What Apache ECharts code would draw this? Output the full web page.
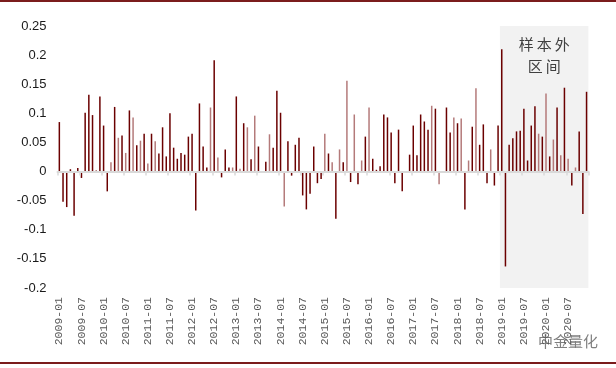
<!DOCTYPE html>
<html><head><meta charset="utf-8">
<script src="https://cdn.jsdelivr.net/npm/echarts@6/dist/echarts.min.js"></script>
<style>html,body{margin:0;padding:0;background:#fff}#c{width:616px;height:368px}</style>
</head><body><div id="c"></div>
<script>
// ---- data ----
const startYear = 2009, endYear = 2020;
const categories = [];
for (let y = startYear; y <= endYear; y++) for (let m = 1; m <= 12; m++) categories.push(y + '-' + String(m).padStart(2, '0'));

const values = [
  0.085, -0.052, -0.061, 0.004, -0.076, 0.006, -0.011, 0.101, 0.132, 0.097, 0.002, 0.129, // 2009
  0.079, -0.034, 0.016, 0.111, 0.058, 0.062, 0.032, 0.105, 0.093, 0.045, 0.053, 0.065,   // 2010
  0.014, 0.065, 0.052, 0.031, 0.076, 0.026, 0.100, 0.041, 0.022, 0.032, 0.029, 0.060,    // 2011
  0.065, -0.067, 0.117, 0.043, 0.007, 0.110, 0.191, 0.024, -0.010, 0.038, 0.007, 0.007,  // 2012
  0.129, 0.005, 0.083, 0.076, 0.021, 0.096, 0.043, 0, 0.017, 0.064, 0.041, 0.139,        // 2013
  0.101, -0.060, 0.052, -0.007, 0.046, 0.058, -0.041, -0.065, -0.038, 0.043, -0.020, -0.013, // 2014
  0.065, 0.031, 0.016, -0.081, 0.038, 0.016, 0.156, -0.018, 0.098, -0.022, 0.019, 0.060, // 2015
  0.110, 0.022, 0.003, 0.009, 0.098, 0.093, 0.067, -0.020, 0.072, -0.034, 0, 0.029,      // 2016
  0.079, 0.028, 0.098, 0.086, 0.072, 0.113, 0.108, -0.022, 0, 0.110, 0.067, 0.093,       // 2017
  0.083, 0.091, -0.065, 0.019, 0.077, 0.143, 0.046, 0.081, -0.020, 0.038, -0.024, 0.079, // 2018
  0.210, -0.163, 0.046, 0.057, 0.069, 0.070, 0.108, 0.019, 0.079, 0.112, 0.065, 0.060,   // 2019
  0.134, 0.026, 0.055, 0.110, 0.028, 0.144, 0.022, -0.024, 0.007, 0.069, -0.073, 0.137   // 2020
];

// months drawn in the lighter tone
const lightMonths = [
  '2010-03','2010-05','2010-07','2010-09','2010-11','2011-01','2011-03',
  '2012-06','2012-08','2012-12','2013-02','2013-04','2013-06','2013-10','2014-02',
  '2015-01','2015-03','2015-05','2015-07','2015-09','2015-11','2016-01',
  '2017-06','2017-08','2017-12','2018-02','2018-04','2018-06','2018-10',
  '2019-11','2020-01','2020-03','2020-05','2020-07','2020-09'
];

const yMin = -0.2, yMax = 0.25, yStep = 0.05;
const oosStart = '2019-01', oosEnd = '2020-12';
const oosLabel = '样\u2009本\u2009外\n区\u2009间';
const watermark = '中金量化';

// ---- chart ----
const DARK = '#6B0000', LIGHT = '#B47A7A';
const barData = values.map((v, i) => ({
  value: v,
  itemStyle: { color: lightMonths.includes(categories[i]) ? LIGHT : DARK }
}));

const chart = echarts.init(document.getElementById('c'), null, { renderer: 'canvas' });
chart.setOption({
  animation: false,
  backgroundColor: '#fff',
  grid: { left: 57.5, right: 27.6, top: 26, bottom: 80, containLabel: false },
  xAxis: [
    {
      type: 'category', data: categories, position: 'bottom',
      axisLine: { show: false, onZero: false }, axisTick: { show: false },
      axisLabel: { interval: 5, rotate: 90, margin: 9, color: '#595959',
        fontFamily: 'Liberation Mono', fontSize: 11.5 },
      splitLine: { show: false }
    },
    {
      type: 'value', position: 'top', min: -0.5, max: categories.length - 0.5, interval: 6,
      z: 3,
      axisLine: { show: true, onZero: true, lineStyle: { color: '#D9D9D9', width: 2 } },
      axisTick: { show: true, inside: true, length: 4, lineStyle: { color: '#D9D9D9', width: 1.5 } },
      axisLabel: { show: false }, splitLine: { show: false }
    }
  ],
  yAxis: {
    type: 'value', min: yMin, max: yMax, interval: yStep,
    axisLine: { show: false }, axisTick: { show: false }, splitLine: { show: false },
    axisLabel: { margin: 11, color: '#1a1a1a', fontFamily: 'Liberation Sans', fontSize: 13,
      formatter: v => String(+v.toFixed(2)) }
  },
  series: [
    {
      type: 'line', xAxisIndex: 1, data: [], z: 1, silent: true,
      markArea: {
        silent: true,
        itemStyle: { color: '#F2F2F2' },
        label: { show: true, position: 'insideTop', distance: 7, formatter: oosLabel,
          color: '#404040', fontSize: 15, lineHeight: 22,
          fontFamily: 'Noto Sans CJK SC' },
        data: [[
          { xAxis: categories.indexOf(oosStart) - 0.5, yAxis: yMax },
          { xAxis: categories.indexOf(oosEnd) + 0.5, yAxis: yMin }
        ]]
      }
    },
    {
      type: 'bar', xAxisIndex: 0, data: barData, barWidth: 1.5, z: 2
    }
  ],
  graphic: [
    { type: 'rect', left: 0, top: 0, shape: { width: 616, height: 2 }, style: { fill: '#7B1C1C' } },
    { type: 'rect', left: 0, top: 362, shape: { width: 616, height: 2 }, style: { fill: '#7B1C1C' } },
    { type: 'text', left: 538, top: 334, style: { text: watermark, fill: '#7F7F7F',
      font: '15px "Noto Sans CJK SC"' } }
  ]
});
</script>
</body></html>
